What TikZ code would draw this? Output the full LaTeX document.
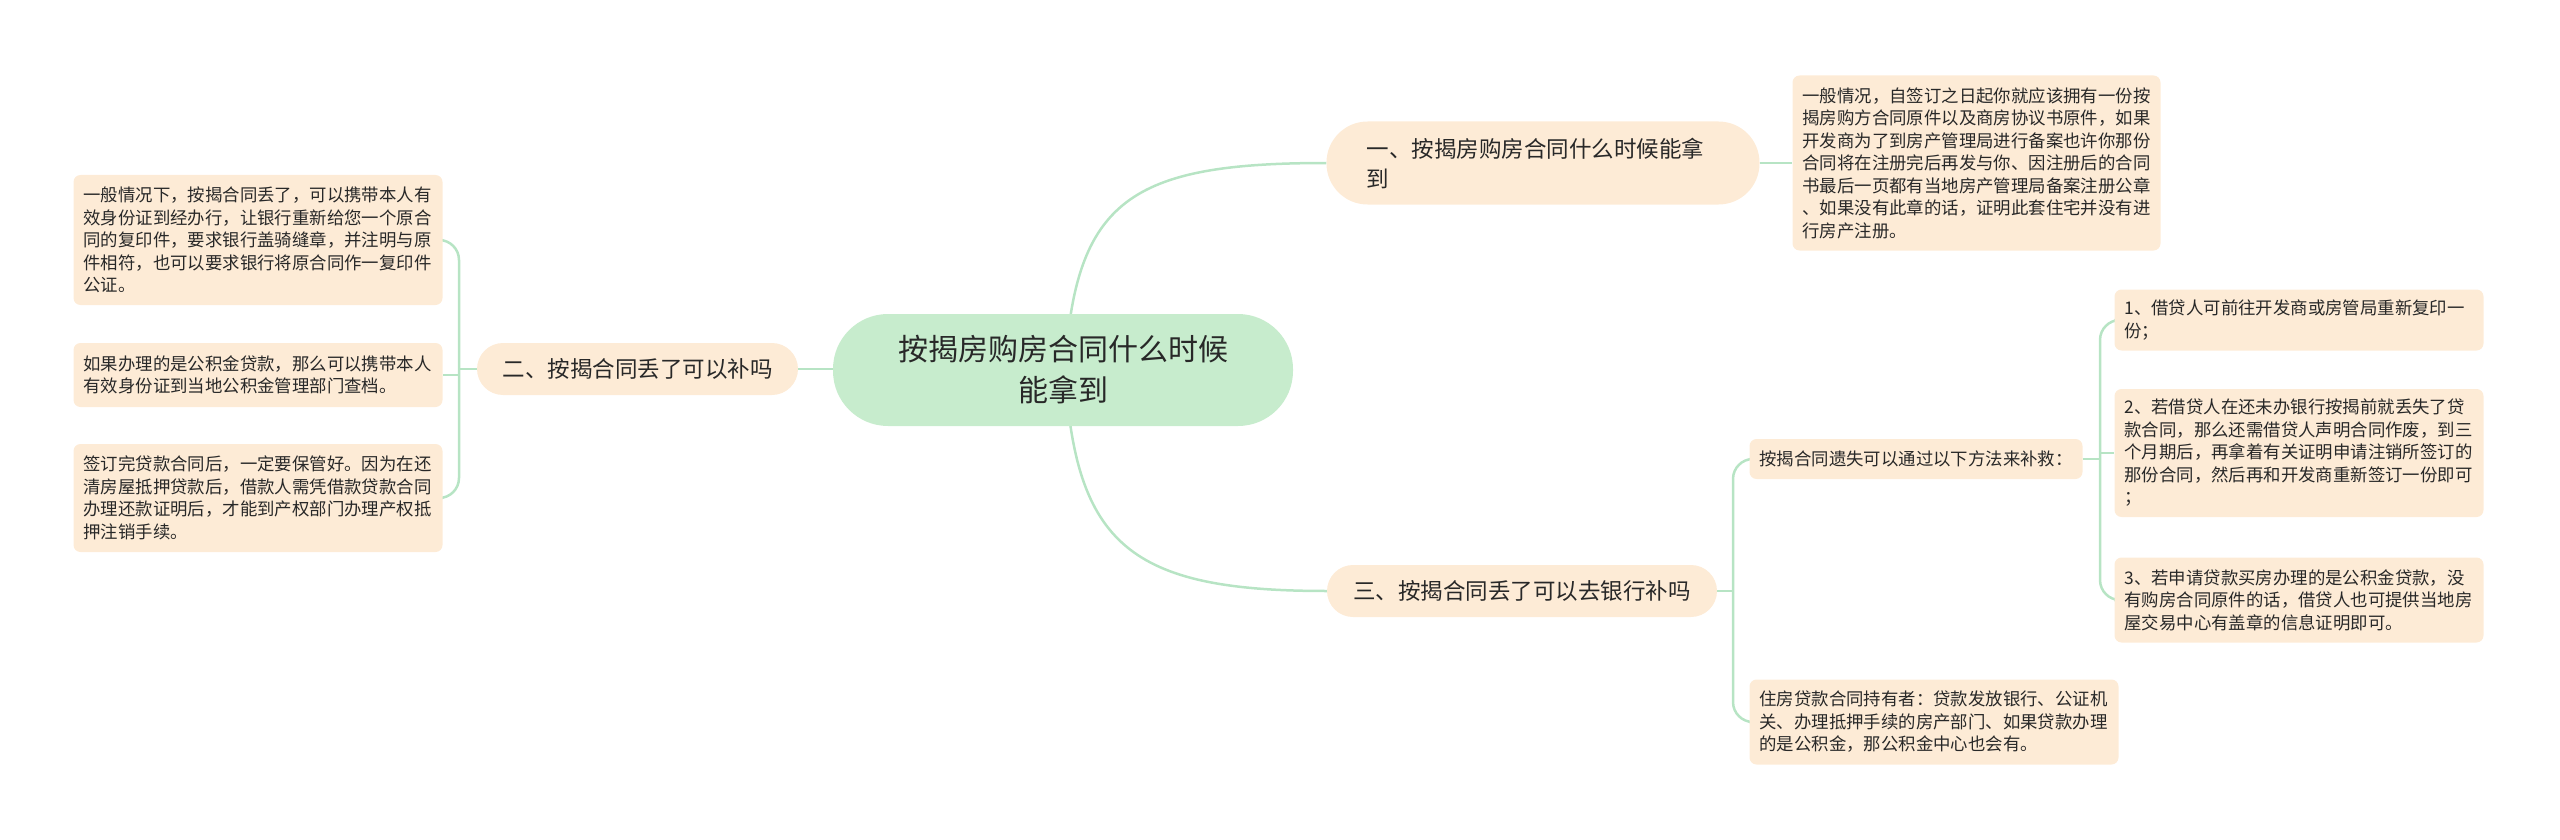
\documentclass[tikz,border=0pt]{standalone}
\usepackage{fontspec}
\newfontfamily\cjk{Noto Sans CJK SC}
\usetikzlibrary{backgrounds}
\definecolor{linec}{RGB}{183,228,196}
\definecolor{centerc}{RGB}{199,236,205}
\definecolor{peach}{RGB}{253,235,214}
\definecolor{txt}{RGB}{40,40,40}
\begin{document}
\begin{tikzpicture}[x=1pt,y=-1pt,
  conn/.style={draw=linec,line width=2.5pt},
  leafbox/.style={rectangle,rounded corners=7pt,fill=peach,text=txt,inner xsep=10pt,inner ysep=0pt,
    text width=349pt,align=left,font=\cjk\fontsize{17.4}{22.5}\selectfont},
  mainbox/.style={rectangle,fill=peach,text=txt,inner ysep=0pt,font=\cjk\fontsize{22.5}{30}\selectfont},
  centerbox/.style={rectangle,fill=centerc,text=txt,inner xsep=40pt,inner ysep=0pt,text width=380pt,
    align=center,minimum height=112pt,rounded corners=55pt,font=\cjk\fontsize{30}{41}\selectfont}]
\useasboundingbox (0,0) rectangle (2560,840);

\node[centerbox] (c) at (1063,370) {按揭房购房合同什么时候\\能拿到};

\node[mainbox,minimum height=83pt,rounded corners=41pt,inner xsep=40pt,text width=353pt,align=left] (yi) at (1543,163) {一、按揭房购房合同什么时候能拿\\到};
\node[mainbox,minimum height=52pt,rounded corners=26pt,inner xsep=0pt,text width=321pt,align=center] (er) at (637.5,369) {二、按揭合同丢了可以补吗};
\node[mainbox,minimum height=52pt,rounded corners=26pt,inner xsep=0pt,text width=390pt,align=center] (san) at (1522,591) {三、按揭合同丢了可以去银行补吗};

\node[leafbox,minimum height=175pt,text width=348pt] (yiL) at (1976.5,163) {一般情况，自签订之日起你就应该拥有一份按\\揭房购方合同原件以及商房协议书原件，如果\\开发商为了到房产管理局进行备案也许你那份\\合同将在注册完后再发与你、因注册后的合同\\书最后一页都有当地房产管理局备案注册公章\\、如果没有此章的话，证明此套住宅并没有进\\行房产注册。};

\node[leafbox,minimum height=130pt] (l1) at (258,240) {一般情况下，按揭合同丢了，可以携带本人有\\效身份证到经办行，让银行重新给您一个原合\\同的复印件，要求银行盖骑缝章，并注明与原\\件相符，也可以要求银行将原合同作一复印件\\公证。};
\node[leafbox,minimum height=64pt] (l2) at (258,375) {如果办理的是公积金贷款，那么可以携带本人\\有效身份证到当地公积金管理部门查档。};
\node[leafbox,minimum height=108pt] (l3) at (258,498) {签订完贷款合同后，一定要保管好。因为在还\\清房屋抵押贷款后，借款人需凭借款贷款合同\\办理还款证明后，才能到产权部门办理产权抵\\押注销手续。};

\node[leafbox,minimum height=40pt,text width=313pt] (bj) at (1916,459) {按揭合同遗失可以通过以下方法来补救：};
\node[leafbox,minimum height=85pt] (zf) at (1934,722) {住房贷款合同持有者：贷款发放银行、公证机\\关、办理抵押手续的房产部门、如果贷款办理\\的是公积金，那公积金中心也会有。};

\node[leafbox,minimum height=61pt] (r1) at (2299,320) {1、借贷人可前往开发商或房管局重新复印一\\份；};
\node[leafbox,minimum height=128pt] (r2) at (2299,453) {2、若借贷人在还未办银行按揭前就丢失了贷\\款合同，那么还需借贷人声明合同作废，到三\\个月期后，再拿着有关证明申请注销所签订的\\那份合同，然后再和开发商重新签订一份即可\\；};
\node[leafbox,minimum height=85pt] (r3) at (2299,600) {3、若申请贷款买房办理的是公积金贷款，没\\有购房合同原件的话，借贷人也可提供当地房\\屋交易中心有盖章的信息证明即可。};

\coordinate (cs) at (1065,370);
\coordinate (bl) at (459,369);
\coordinate (bm) at (1733,591);
\coordinate (br) at (2100,459);

\begin{scope}[on background layer]
  \draw[conn] (cs) .. controls (1075,200) and (1130,163) .. (yi.west);
  \draw[conn] (cs) .. controls (1075,545) and (1130,591) .. (san.west);
  \draw[conn] (c.west |- er.east) -- (er.east);
  \draw[conn] (yi.east) -- (yiL.west);
  \draw[conn] (er.west) -- (bl);
  \draw[conn,rounded corners=20pt] (l1.east) -| (bl) |- (l3.east);
  \draw[conn] (bl |- l2.east) -- (l2.east);
  \draw[conn] (san.east) -- (bm);
  \draw[conn,rounded corners=20pt] (bj.west) -| (bm) |- (zf.west);
  \draw[conn] (bj.east) -- (br);
  \draw[conn,rounded corners=20pt] (r1.west) -| (br) |- (r3.west);
  \draw[conn] (br |- r2.west) -- (r2.west);
\end{scope}
\end{tikzpicture}
\end{document}
